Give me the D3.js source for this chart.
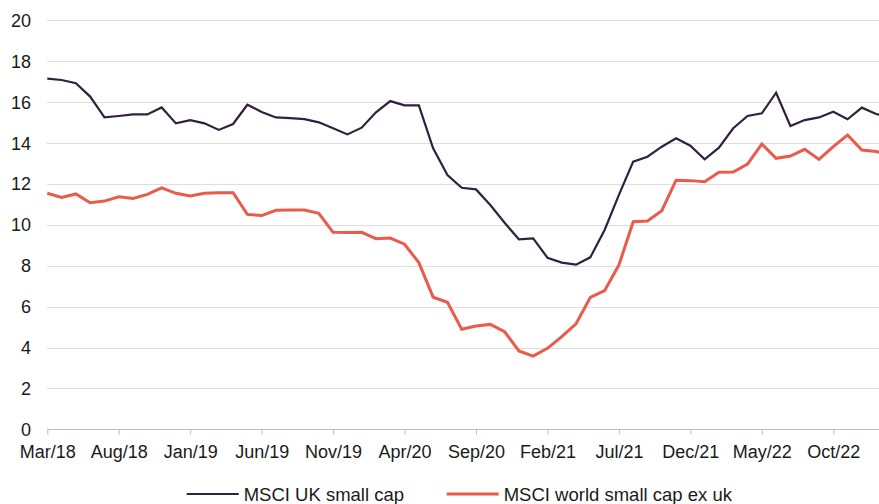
<!DOCTYPE html>
<html>
<head>
<meta charset="utf-8">
<script src="https://d3js.org/d3.v7.min.js"></script>
<style>
  body { margin: 0; background: #fff; }
  text { font-family: "Liberation Sans", Arial, sans-serif; }
</style>
</head>
<body>
<div id="chart"></div>
<script>

// monthly points, Mar/18 onwards
var ukSmallCap = [17.15, 17.08, 16.92, 16.27, 15.25, 15.32, 15.40, 15.40, 15.74, 14.96,
  15.12, 14.96, 14.64, 14.93, 15.87, 15.52, 15.25, 15.22, 15.17, 15.01,
  14.72, 14.42, 14.75, 15.50, 16.05, 15.84, 15.84, 13.74, 12.43, 11.81,
  11.73, 10.97, 10.10, 9.29, 9.34, 8.39, 8.15, 8.05, 8.41, 9.75,
  11.46, 13.09, 13.33, 13.82, 14.23, 13.87, 13.20, 13.77, 14.72, 15.32,
  15.45, 16.46, 14.83, 15.12, 15.25, 15.53, 15.16, 15.73, 15.42, 15.25];

var worldSmallCap = [11.54, 11.34, 11.51, 11.08, 11.16, 11.37, 11.29, 11.49, 11.81, 11.54,
  11.41, 11.54, 11.57, 11.57, 10.51, 10.45, 10.71, 10.72, 10.72, 10.56,
  9.63, 9.62, 9.63, 9.32, 9.35, 9.05, 8.15, 6.46, 6.21, 4.89,
  5.05, 5.13, 4.77, 3.83, 3.58, 3.96, 4.53, 5.16, 6.45, 6.78,
  8.03, 10.15, 10.19, 10.69, 12.18, 12.16, 12.11, 12.57, 12.58, 12.97,
  13.95, 13.25, 13.36, 13.69, 13.20, 13.82, 14.39, 13.66, 13.58, 13.42];

var tickLabels = ["Mar/18", "Aug/18", "Jan/19", "Jun/19", "Nov/19", "Apr/20",
  "Sep/20", "Feb/21", "Jul/21", "Dec/21", "May/22", "Oct/22"];
var yTicks = [0, 2, 4, 6, 8, 10, 12, 14, 16, 18, 20];

var seriesNames = ["MSCI UK small cap", "MSCI world small cap ex uk"];
var colors = ["#33203f", "#e95b4b"];

var W = 879, H = 504;

var svg = d3.select("#chart").append("svg")
  .attr("width", W).attr("height", H);

var x = d3.scaleLinear()
  .domain([0, 58.2])
  .range([47.3, 879]);

var y = d3.scaleLinear()
  .domain([0, 20])
  .range([429.3, 20.3]);

// gridlines
svg.append("g")
  .selectAll("line")
  .data(yTicks.filter(function(d) { return d > 0; }))
  .join("line")
    .attr("x1", 47).attr("x2", W)
    .attr("y1", function(d) { return Math.round(y(d)) + 0.5; })
    .attr("y2", function(d) { return Math.round(y(d)) + 0.5; })
    .attr("stroke", "#dedede")
    .attr("stroke-width", 1);

// y labels
svg.append("g")
  .selectAll("text")
  .data(yTicks)
  .join("text")
    .attr("x", 31)
    .attr("y", function(d) { return y(d) + 6.5; })
    .attr("text-anchor", "end")
    .attr("font-size", 18)
    .attr("fill", "#1a1a1a")
    .text(function(d) { return d; });

// x axis
var xAxis = d3.axisBottom(x)
  .tickValues(tickLabels.map(function(d, i) { return i * 5; }))
  .tickFormat(function(d) { return tickLabels[d / 5]; })
  .tickSize(5)
  .tickSizeOuter(0);

var gx = svg.append("g")
  .attr("transform", "translate(0," + 429.5 + ")")
  .call(xAxis);
gx.select(".domain").attr("stroke", "#bfbfbf").attr("d", "M47,0H" + W);
gx.selectAll(".tick line").attr("stroke", "#bfbfbf");
gx.selectAll(".tick text")
  .attr("font-family", "Liberation Sans, Arial, sans-serif")
  .attr("font-size", 18)
  .attr("fill", "#1a1a1a")
  .attr("dy", null)
  .attr("y", 28.5);

// lines
svg.append("clipPath").attr("id", "clip")
  .append("rect").attr("x", 0).attr("y", 0).attr("width", W).attr("height", 440);

var line = d3.line()
  .x(function(d, i) { return x(i); })
  .y(function(d) { return y(d); });

[ukSmallCap, worldSmallCap].forEach(function(s, k) {
  svg.append("path")
    .datum(s)
    .attr("clip-path", "url(#clip)")
    .attr("fill", "none")
    .attr("stroke", colors[k])
    .attr("stroke-width", k == 0 ? 2.2 : 3)
    .attr("stroke-linejoin", "miter")
    .attr("d", line);
});

// legend
var legX = [186.7, 446.7];
seriesNames.forEach(function(name, k) {
  svg.append("line")
    .attr("x1", legX[k]).attr("x2", legX[k] + 52)
    .attr("y1", 494).attr("y2", 494)
    .attr("stroke", colors[k])
    .attr("stroke-width", k == 0 ? 2.2 : 3);
  svg.append("text")
    .attr("x", legX[k] + 57)
    .attr("y", 500.5)
    .attr("font-size", 18.5)
    .attr("fill", "#1a1a1a")
    .text(name);
});

</script>
</body>
</html>
